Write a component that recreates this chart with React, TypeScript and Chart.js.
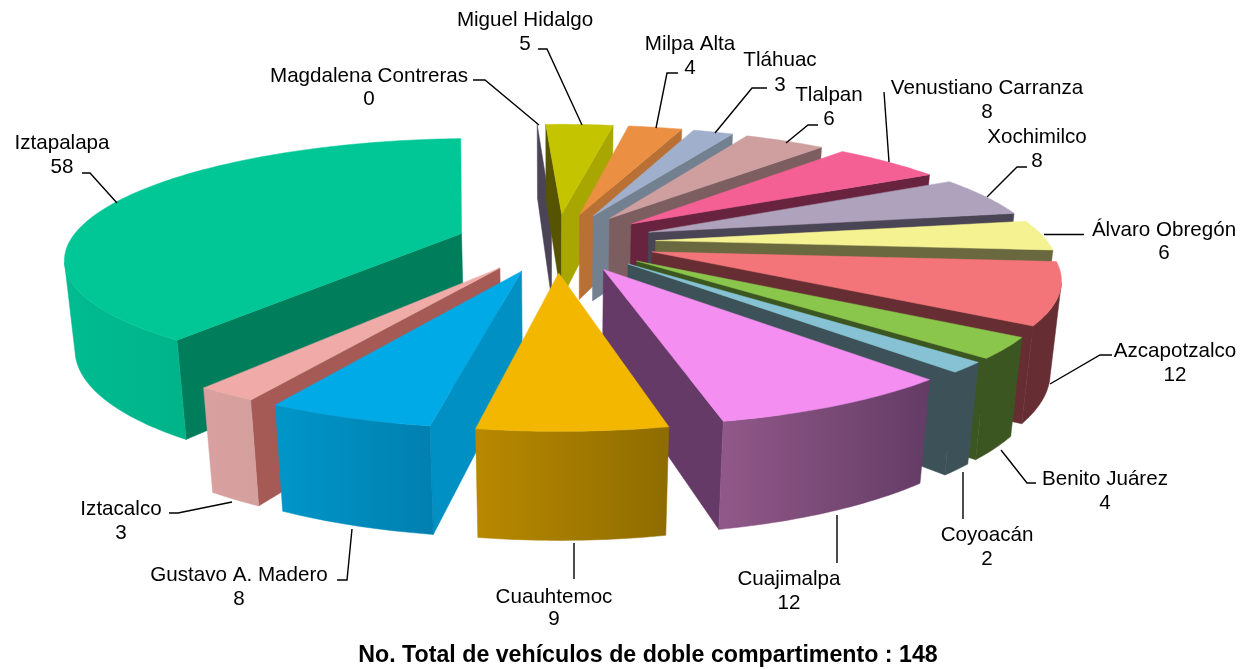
import React, { useEffect, useRef } from "react";
import { Chart, registerables } from "chart.js";

Chart.register(...registerables);

const categories = ["Álvaro Obregón", "Azcapotzalco", "Benito Juárez", "Coyoacán", "Cuajimalpa", "Cuauhtemoc", "Gustavo A. Madero", "Iztacalco", "Iztapalapa", "Magdalena Contreras", "Miguel Hidalgo", "Milpa Alta", "Tláhuac", "Tlalpan", "Venustiano Carranza", "Xochimilco"];
const values = [6, 12, 4, 2, 12, 9, 8, 3, 58, 0, 5, 4, 3, 6, 8, 8];
const topColors = ["#F4F291", "#F47579", "#8AC64C", "#86C2D4", "#F48EF0", "#F3B700", "#00AAE6", "#F0ABA9", "#00C795", "#5B5368", "#C4C400", "#EB8F42", "#A0B0CC", "#CF9E9E", "#F46094", "#AEA2BC"];
const endFaceColors = ["#69683E", "#662E33", "#3C5621", "#3C5158", "#663A66", "#8E6C00", "#0090C4", "#A65A55", "#007E5C", "#4B4356", "#A8A600", "#B87035", "#728090", "#7C5E60", "#68233E", "#4A4555"];
const startFaceColors = ["#69683E", "#662E33", "#3C5621", "#3C5158", "#663A66", "#8E6C00", "#0090C4", "#A65A55", "#007E5C", "#4B4356", "#575400", "#B87035", "#728090", "#7C5E60", "#68233E", "#4A4555"];
const wallLeftColors = ["#69683E", "#662E33", "#3C5621", "#3C5158", "#905888", "#B88900", "#0096C9", "#D9A0A0", "#00BC90", "#4B4356", "#A8A600", "#B87035", "#728090", "#7C5E60", "#68233E", "#4A4555"];
const wallRightColors = ["#69683E", "#662E33", "#3C5621", "#3C5158", "#643C66", "#8E6C00", "#0080B0", "#D4A09E", "#00B48A", "#4B4356", "#A8A600", "#B87035", "#728090", "#7C5E60", "#68233E", "#4A4555"];

// label centre x, first-line centre y, second-line centre y
const labelX = [1164, 1175, 1105, 987, 789, 554, 239, 121, 62, 369, 525, 690, 780, 829, 987, 1037];
const labelY1 = [230, 351, 479, 535, 579, 597, 575, 509, 143, 76, 20, 44, 60, 95, 88, 137];
const labelY2 = [253, 375, 503, 559, 603, 619, 599, 533, 167, 99, 44, 68, 85, 119, 112, 161];
const leaders: number[][][] = [
  [[1044, 234.5], [1084, 234.5]],
  [[1050, 384], [1100, 355], [1112, 355]],
  [[1001, 450], [1027, 483], [1036, 483]],
  [[963, 472], [963, 519]],
  [[837, 515], [837, 563]],
  [[574, 543], [574, 579]],
  [[352, 529], [347, 580], [337, 580]],
  [[232, 502], [178, 513], [169, 513]],
  [[117, 203], [90, 173], [82, 173]],
  [[539, 125], [485, 80], [473, 80]],
  [[582, 125], [547, 49], [538, 49]],
  [[656, 128], [667, 73], [678, 73]],
  [[715, 133], [752, 88], [767, 88]],
  [[786, 143], [808, 125], [818, 125]],
  [[889, 162], [884, 92]],
  [[987, 197], [1017, 167], [1027, 167]],
];
const footer = "No. Total de vehículos de doble compartimento : 148";

const VIEW = { cx: 556, cy: 242, f: 2108, tilt: 0.295, depth: 90, sink: 0.5, rotation: 80, radius: 392, explode: 100 };

function project(px: number, py: number, z: number): [number, number] {
  const s = VIEW.f / (VIEW.f - py + VIEW.sink * z);
  return [VIEW.cx + s * px, VIEW.cy + s * (VIEW.tilt * py + z)];
}

function fillPoly(ctx: CanvasRenderingContext2D, pts: [number, number][], fill: string | CanvasGradient) {
  ctx.beginPath();
  pts.forEach((p, i) => (i ? ctx.lineTo(p[0], p[1]) : ctx.moveTo(p[0], p[1])));
  ctx.closePath();
  ctx.fillStyle = fill;
  ctx.fill();
  ctx.strokeStyle = fill;
  ctx.lineWidth = 0.5;
  ctx.stroke();
}

const pie3d = {
  id: "pie3d",
  beforeDatasetsDraw(chart: any) {
    const ctx: CanvasRenderingContext2D = chart.ctx;
    const arcs: any[] = chart.getDatasetMeta(0).data;
    const order = arcs
      .map((arc, i) => {
        const mid = (arc.startAngle + arc.endAngle) / 2;
        return { i, key: Math.sin(mid) };
      })
      .sort((a, b) => a.key - b.key);
    const D = VIEW.depth;
    order.forEach(({ i }) => {
      const arc = arcs[i];
      const a0 = arc.startAngle;
      const a1 = arc.endAngle;
      const mid = (a0 + a1) / 2;
      const off = arc.options.offset;
      const ox = Math.cos(mid) * off;
      const oy = Math.sin(mid) * off;
      const R = arc.outerRadius;
      const pt = (a: number): [number, number] => [ox + R * Math.cos(a), oy + R * Math.sin(a)];
      const steps = Math.max(2, Math.ceil(((a1 - a0) * 180) / Math.PI));
      const angles: number[] = [];
      for (let k = 0; k <= steps; k++) angles.push(a0 + ((a1 - a0) * k) / steps);
      const cam: [number, number] = [0, VIEW.f];
      const face = (a: number, sign: number, color: string) => {
        const nx = -Math.sin(a) * sign;
        const ny = Math.cos(a) * sign;
        if ((cam[0] - ox) * nx + (cam[1] - oy) * ny <= 0) return;
        const e = pt(a);
        fillPoly(ctx, [project(ox, oy, 0), project(e[0], e[1], 0), project(e[0], e[1], D), project(ox, oy, D)], color);
      };
      face(a0, -1, startFaceColors[i]);
      face(a1, 1, endFaceColors[i]);
      const vis = angles.filter((a) => {
        const p = pt(a);
        return (cam[0] - p[0]) * Math.cos(a) + (cam[1] - p[1]) * Math.sin(a) > 0;
      });
      if (vis.length > 1) {
        const upper = vis.map((a) => {
          const p = pt(a);
          return project(p[0], p[1], 0);
        });
        const lower = vis
          .map((a) => {
            const p = pt(a);
            return project(p[0], p[1], D);
          })
          .reverse();
        const xs = upper.map((p) => p[0]);
        const g = ctx.createLinearGradient(Math.min(...xs), 0, Math.max(...xs), 0);
        g.addColorStop(0, wallLeftColors[i]);
        g.addColorStop(1, wallRightColors[i]);
        fillPoly(ctx, [...upper, ...lower], g);
      }
      const top: [number, number][] = [project(ox, oy, 0)];
      angles.forEach((a) => {
        const p = pt(a);
        top.push(project(p[0], p[1], 0));
      });
      if (a1 > a0) fillPoly(ctx, top, topColors[i]);
    });

    ctx.strokeStyle = "#000";
    ctx.lineWidth = 1.4;
    leaders.forEach((line) => {
      ctx.beginPath();
      line.forEach((p, k) => (k ? ctx.lineTo(p[0], p[1]) : ctx.moveTo(p[0], p[1])));
      ctx.stroke();
    });
    ctx.fillStyle = "#000";
    ctx.textAlign = "center";
    ctx.textBaseline = "middle";
    ctx.font = '20.6px "Liberation Sans"';
    categories.forEach((c, i) => {
      ctx.fillText(c, labelX[i], labelY1[i]);
      ctx.fillText(String(values[i]), labelX[i], labelY2[i]);
    });
    ctx.font = 'bold 23.2px "Liberation Sans"';
    ctx.fillText(footer, 648, 656);
    return false;
  },
};

export default function App() {
  const ref = useRef<HTMLCanvasElement | null>(null);
  useEffect(() => {
    document.body.style.margin = "0";
    const chart = new Chart(ref.current as HTMLCanvasElement, {
      type: "pie",
      data: {
        labels: categories,
        datasets: [{ data: values, backgroundColor: topColors, offset: VIEW.explode, borderWidth: 0 }],
      },
      options: {
        animation: false,
        responsive: false,
        rotation: VIEW.rotation,
        radius: VIEW.radius,
        plugins: { legend: { display: false }, tooltip: { enabled: false }, title: { display: false } },
      },
      plugins: [pie3d],
    } as any);
    return () => chart.destroy();
  }, []);
  return <canvas ref={ref} width={1243} height={669} style={{ display: "block", background: "#fff" }} />;
}
